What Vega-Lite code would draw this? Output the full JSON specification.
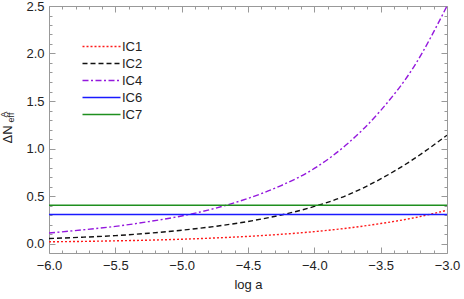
{
  "$schema": "https://vega.github.io/schema/vega-lite/v6.json",
  "width": 398,
  "height": 247,
  "autosize": "none",
  "padding": {"left": 49, "top": 6, "right": 17, "bottom": 46},
  "background": "white",
  "config": {
    "font": "Liberation Sans",
    "view": {"stroke": null},
    "axis": {"grid": false, "labelFlush": false, "labelOverlap": false, "domainColor": "#999999", "tickColor": "#999999", "labelColor": "#222222", "titleColor": "#222222", "labelFont": "Liberation Sans", "titleFont": "Liberation Sans", "labelFontSize": 13, "titleFontWeight": "normal"}
  },
  "data": {"values": [
    {"x": -6.0, "v": 0.018, "s": "IC1"}, {"x": -5.75, "v": 0.022, "s": "IC1"}, {"x": -5.5, "v": 0.028, "s": "IC1"}, {"x": -5.25, "v": 0.035, "s": "IC1"}, {"x": -5.0, "v": 0.045, "s": "IC1"}, {"x": -4.75, "v": 0.058, "s": "IC1"}, {"x": -4.5, "v": 0.075, "s": "IC1"}, {"x": -4.25, "v": 0.097, "s": "IC1"}, {"x": -4.0, "v": 0.125, "s": "IC1"}, {"x": -3.75, "v": 0.162, "s": "IC1"}, {"x": -3.5, "v": 0.21, "s": "IC1"}, {"x": -3.25, "v": 0.27, "s": "IC1"}, {"x": -3.0, "v": 0.35, "s": "IC1"},
    {"x": -6.0, "v": 0.052, "s": "IC2"}, {"x": -5.75, "v": 0.066, "s": "IC2"}, {"x": -5.5, "v": 0.083, "s": "IC2"}, {"x": -5.25, "v": 0.108, "s": "IC2"}, {"x": -5.0, "v": 0.14, "s": "IC2"}, {"x": -4.75, "v": 0.18, "s": "IC2"}, {"x": -4.5, "v": 0.232, "s": "IC2"}, {"x": -4.25, "v": 0.3, "s": "IC2"}, {"x": -4.0, "v": 0.39, "s": "IC2"}, {"x": -3.75, "v": 0.51, "s": "IC2"}, {"x": -3.5, "v": 0.68, "s": "IC2"}, {"x": -3.25, "v": 0.89, "s": "IC2"}, {"x": -3.0, "v": 1.14, "s": "IC2"},
    {"x": -6.0, "v": 0.11, "s": "IC4"}, {"x": -5.75, "v": 0.143, "s": "IC4"}, {"x": -5.5, "v": 0.18, "s": "IC4"}, {"x": -5.25, "v": 0.23, "s": "IC4"}, {"x": -5.0, "v": 0.29, "s": "IC4"}, {"x": -4.75, "v": 0.37, "s": "IC4"}, {"x": -4.5, "v": 0.475, "s": "IC4"}, {"x": -4.25, "v": 0.61, "s": "IC4"}, {"x": -4.0, "v": 0.79, "s": "IC4"}, {"x": -3.75, "v": 1.05, "s": "IC4"}, {"x": -3.5, "v": 1.4, "s": "IC4"}, {"x": -3.25, "v": 1.86, "s": "IC4"}, {"x": -3.0, "v": 2.5, "s": "IC4"},
    {"x": -6.0, "v": 0.305, "s": "IC6"}, {"x": -3.0, "v": 0.305, "s": "IC6"},
    {"x": -6.0, "v": 0.403, "s": "IC7"}, {"x": -3.0, "v": 0.403, "s": "IC7"}
  ]},
  "resolve": {"axis": {"x": "independent", "y": "independent"}},
  "layer": [
    {
      "mark": {"type": "line", "strokeWidth": 1.4, "interpolate": "monotone", "clip": true},
      "encoding": {
        "x": {"field": "x", "type": "quantitative", "scale": {"domain": [-6, -3], "nice": false, "zero": false},
          "axis": {"orient": "bottom", "values": [-6, -5.5, -5, -4.5, -4, -3.5, -3], "format": ".1f", "tickSize": -6, "labelPadding": 12, "title": "log a", "titleFontSize": 13, "titlePadding": 6}},
        "y": {"field": "v", "type": "quantitative", "scale": {"domain": [-0.1, 2.5], "nice": false, "zero": false},
          "axis": {"orient": "left", "values": [0, 0.5, 1, 1.5, 2, 2.5], "format": ".1f", "tickSize": -6, "labelPadding": 11, "title": "ΔN", "titleFontSize": 13, "titleAngle": -90, "titleAlign": "center", "titleBaseline": "middle", "titleX": -42, "titleY": 128}},
        "color": {"field": "s", "type": "nominal", "scale": {"domain": ["IC1", "IC2", "IC4", "IC6", "IC7"], "range": ["#ff1a1a", "#111111", "#9418dd", "#1a1aff", "#1f8f1f"]},
          "legend": {"title": null, "orient": "none", "legendX": 46, "legendY": 34, "padding": 0, "symbolType": "M-9.5,0H9.5", "symbolSize": 16, "symbolStrokeWidth": 1.5, "labelOffset": 14, "labelFontSize": 13, "labelFont": "Liberation Sans", "labelColor": "#222222", "rowPadding": 3}},
        "strokeDash": {"field": "s", "type": "nominal", "scale": {"domain": ["IC1", "IC2", "IC4", "IC6", "IC7"], "range": [[2, 2], [5, 3], [6, 2.5, 2, 2.5], [1, 0], [1, 0]]},
          "legend": {"title": null, "orient": "none", "legendX": 46, "legendY": 34, "padding": 0, "symbolType": "M-9.5,0H9.5", "symbolSize": 16, "symbolStrokeWidth": 1.5, "labelOffset": 14, "labelFontSize": 13, "labelFont": "Liberation Sans", "labelColor": "#222222", "rowPadding": 3}}
      }
    },
    {
      "mark": {"type": "point", "opacity": 0, "size": 0},
      "encoding": {
        "x": {"field": "x", "type": "quantitative", "scale": {"domain": [-6, -3], "nice": false, "zero": false},
          "axis": {"orient": "bottom", "values": [-5.9, -5.8, -5.7, -5.6, -5.4, -5.3, -5.2, -5.1, -4.9, -4.8, -4.7, -4.6, -4.4, -4.3, -4.2, -4.1, -3.9, -3.8, -3.7, -3.6, -3.4, -3.3, -3.2, -3.1], "labels": false, "domain": false, "tickSize": -3, "title": null}},
        "y": {"field": "v", "type": "quantitative", "scale": {"domain": [-0.1, 2.5], "nice": false, "zero": false},
          "axis": {"orient": "left", "values": [0.1, 0.2, 0.3, 0.4, 0.6, 0.7, 0.8, 0.9, 1.1, 1.2, 1.3, 1.4, 1.6, 1.7, 1.8, 1.9, 2.1, 2.2, 2.3, 2.4], "labels": false, "domain": false, "tickSize": -3, "title": "eff", "titleFontSize": 9, "titleAngle": -90, "titleAlign": "center", "titleBaseline": "middle", "titleX": -39, "titleY": 111}}
      }
    },
    {
      "mark": {"type": "point", "opacity": 0, "size": 0},
      "encoding": {
        "x": {"field": "x", "type": "quantitative", "scale": {"domain": [-6, -3], "nice": false, "zero": false},
          "axis": {"orient": "top", "values": [-6, -5.5, -5, -4.5, -4, -3.5, -3], "labels": false, "tickSize": -6, "title": null}},
        "y": {"field": "v", "type": "quantitative", "scale": {"domain": [-0.1, 2.5], "nice": false, "zero": false},
          "axis": {"orient": "right", "values": [0, 0.5, 1, 1.5, 2, 2.5], "labels": false, "tickSize": -6, "title": null}}
      }
    },
    {
      "mark": {"type": "point", "opacity": 0, "size": 0},
      "encoding": {
        "x": {"field": "x", "type": "quantitative", "scale": {"domain": [-6, -3], "nice": false, "zero": false},
          "axis": {"orient": "top", "values": [-5.9, -5.8, -5.7, -5.6, -5.4, -5.3, -5.2, -5.1, -4.9, -4.8, -4.7, -4.6, -4.4, -4.3, -4.2, -4.1, -3.9, -3.8, -3.7, -3.6, -3.4, -3.3, -3.2, -3.1], "labels": false, "domain": false, "tickSize": -3, "title": null}},
        "y": {"field": "v", "type": "quantitative", "scale": {"domain": [-0.1, 2.5], "nice": false, "zero": false},
          "axis": {"orient": "right", "values": [0.1, 0.2, 0.3, 0.4, 0.6, 0.7, 0.8, 0.9, 1.1, 1.2, 1.3, 1.4, 1.6, 1.7, 1.8, 1.9, 2.1, 2.2, 2.3, 2.4], "labels": false, "domain": false, "tickSize": -3, "title": null}}
      }
    },
    {
      "mark": {"type": "point", "opacity": 0, "size": 0},
      "encoding": {
        "y": {"field": "v", "type": "quantitative", "scale": {"domain": [-0.1, 2.5], "nice": false, "zero": false},
          "axis": {"orient": "left", "values": [], "labels": false, "domain": false, "ticks": false, "title": "A", "titleFontSize": 9, "titleAngle": -90, "titleAlign": "center", "titleBaseline": "middle", "titleX": -46, "titleY": 108}}
      }
    }
  ]
}
